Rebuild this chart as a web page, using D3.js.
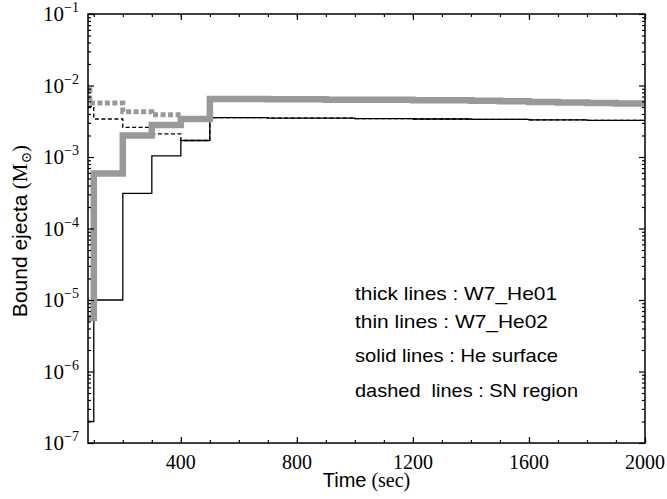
<!DOCTYPE html>
<html><head><meta charset="utf-8">
<script src="https://cdn.jsdelivr.net/npm/d3@7"></script>
<style>
body{margin:0;background:#fff;}
svg{display:block;}
.serif{font-family:'Liberation Serif','DejaVu Serif','Times New Roman',serif;}
.sans{font-family:'Liberation Sans','DejaVu Sans',Arial,sans-serif;}
</style></head>
<body>
<svg id="chart" width="667" height="499"></svg>
<script>
// ---- data ----
const lateTimes = [500,600,700,800,900,1000,1100,1200,1300,1400,1500,1600,1700,1800,1900,2000];
const thinSolidTimes = [80,100,200,300,400].concat(lateTimes);
const thinSolidValues = [2e-7,1e-5,3.1e-4,1.04e-3,1.7e-3,
  3.55e-3,3.55e-3,3.5e-3,3.5e-3,3.5e-3,3.45e-3,3.45e-3,3.4e-3,3.4e-3,3.35e-3,3.35e-3,3.3e-3,3.3e-3,3.25e-3,3.25e-3,3.2e-3];
const thinDashedTimes = [80,100,200,300,400].concat(lateTimes);
const thinDashedValues = [5.1e-3,3.4e-3,2.6e-3,2.1e-3,1.7e-3,
  3.55e-3,3.55e-3,3.5e-3,3.5e-3,3.5e-3,3.45e-3,3.45e-3,3.4e-3,3.4e-3,3.35e-3,3.35e-3,3.3e-3,3.3e-3,3.25e-3,3.25e-3,3.2e-3];
const thickSolidTimes = [80,100,200,300,400].concat(lateTimes);
const thickSolidValues = [5.6e-6,5.9e-4,2.0e-3,2.8e-3,3.4e-3,
  6.5e-3,6.5e-3,6.4e-3,6.4e-3,6.3e-3,6.3e-3,6.3e-3,6.2e-3,6.2e-3,6.1e-3,6.0e-3,5.9e-3,5.8e-3,5.7e-3,5.6e-3,5.5e-3];
const thickDashedTimes = [80,86,200,300,400].concat(lateTimes);
const thickDashedValues = [8.7e-3,5.7e-3,4.3e-3,3.9e-3,3.4e-3,
  6.5e-3,6.5e-3,6.4e-3,6.4e-3,6.3e-3,6.3e-3,6.3e-3,6.2e-3,6.2e-3,6.1e-3,6.0e-3,5.9e-3,5.8e-3,5.7e-3,5.6e-3,5.5e-3];

const xDomain = [80, 2000];
const xMajorTicks = [400, 800, 1200, 1600, 2000];
const xMinorTicks = d3.range(100, 2001, 100);
const yExponents = [-7,-6,-5,-4,-3,-2,-1];
const xLabel = ["Time", " (sec)"];
const yLabel = ["Bound ejecta", " (M", "⊙", ")"];
const notes = ["thick lines : W7_He01", "thin lines : W7_He02", "solid lines : He surface", "dashed  lines : SN region"];

// ---- layout ----
const W = 667, H = 499;
const m = {left: 88, right: 22, top: 14, bottom: 56};
const svg = d3.select("#chart");
const x = d3.scaleLinear().domain(xDomain).range([m.left, W - m.right]);
const y = d3.scaleLog().domain([1e-7, 1e-1]).range([H - m.bottom, m.top]);
const gray = "#999999";

svg.append("defs").append("clipPath").attr("id","clip")
  .append("rect").attr("x", m.left).attr("y", m.top)
  .attr("width", W - m.left - m.right).attr("height", H - m.top - m.bottom);

const line = d3.line().x(d => x(d[0])).y(d => y(d[1])).curve(d3.curveStepAfter);
const g = svg.append("g").attr("clip-path","url(#clip)");
function series(times, values, width, color, dash){
  g.append("path").datum(d3.zip(times, values))
    .attr("d", line).attr("fill","none").attr("stroke", color)
    .attr("stroke-width", width).attr("stroke-dasharray", dash || null);
}
series(thinSolidTimes, thinSolidValues, 1.3, "#000");
series(thinDashedTimes, thinDashedValues, 1.3, "#000", "4,2.5");
series(thickDashedTimes, thickDashedValues, 5, gray, "5,2.5");
series(thickSolidTimes, thickSolidValues, 6.5, gray);

// ---- axes ----
const yMajor = yExponents.map(e => Math.pow(10, e));
const yMinor = [];
yExponents.slice(0, -1).forEach(e => { for (let k = 2; k <= 9; k++) yMinor.push(k * Math.pow(10, e)); });

function styleAxis(sel){
  sel.select(".domain").remove();
  sel.selectAll("line").attr("stroke","#000").attr("stroke-width",1.2);
}
svg.append("g").attr("transform",`translate(0,${H-m.bottom})`)
  .call(d3.axisBottom(x).tickValues(xMajorTicks).tickSize(-6).tickFormat("")).call(styleAxis);
svg.append("g").attr("transform",`translate(0,${H-m.bottom})`)
  .call(d3.axisBottom(x).tickValues(xMinorTicks).tickSize(-3).tickFormat("")).call(styleAxis);
svg.append("g").attr("transform",`translate(0,${m.top})`)
  .call(d3.axisTop(x).tickValues(xMajorTicks).tickSize(-6).tickFormat("")).call(styleAxis);
svg.append("g").attr("transform",`translate(0,${m.top})`)
  .call(d3.axisTop(x).tickValues(xMinorTicks).tickSize(-3).tickFormat("")).call(styleAxis);
svg.append("g").attr("transform",`translate(${m.left},0)`)
  .call(d3.axisLeft(y).tickValues(yMajor).tickSize(-6).tickFormat("")).call(styleAxis);
svg.append("g").attr("transform",`translate(${m.left},0)`)
  .call(d3.axisLeft(y).tickValues(yMinor).tickSize(-3).tickFormat("")).call(styleAxis);
svg.append("g").attr("transform",`translate(${W-m.right},0)`)
  .call(d3.axisRight(y).tickValues(yMajor).tickSize(-6).tickFormat("")).call(styleAxis);
svg.append("g").attr("transform",`translate(${W-m.right},0)`)
  .call(d3.axisRight(y).tickValues(yMinor).tickSize(-3).tickFormat("")).call(styleAxis);

// frame
svg.append("rect").attr("x", m.left).attr("y", m.top)
  .attr("width", W - m.left - m.right).attr("height", H - m.top - m.bottom)
  .attr("fill","none").attr("stroke","#000").attr("stroke-width",1.5);

// tick labels
svg.selectAll(".xl").data(xMajorTicks).enter().append("text")
  .attr("class","serif")
  .attr("x", d => x(d)).attr("y", 468.5).attr("text-anchor","middle")
  .attr("font-size", 20).text(d => d);

yExponents.forEach(e => {
  const t = svg.append("text").attr("class","serif")
    .attr("x", 79).attr("y", y(Math.pow(10, e)) + 7)
    .attr("text-anchor","end").attr("font-size", 21);
  t.append("tspan").text("10");
  t.append("tspan").attr("font-size", 14).attr("dy", -9).text("−" + (-e));
});

// axis titles
const xt = svg.append("text").attr("x", (m.left + W - m.right)/2).attr("y", 487)
  .attr("text-anchor","middle").attr("font-size", 20);
xt.append("tspan").attr("class","sans").text(xLabel[0]);
xt.append("tspan").attr("class","serif").text(xLabel[1]);

const yt = svg.append("text")
  .attr("transform", `translate(27,231) rotate(-90)`)
  .attr("text-anchor","middle").attr("font-size", 21);
yt.append("tspan").attr("class","sans").text(yLabel[0]);
yt.append("tspan").attr("class","serif").text(yLabel[1]);
yt.append("tspan").attr("class","serif").attr("font-size", 14).attr("dy", 4).text(yLabel[2]);
yt.append("tspan").attr("class","serif").attr("dy", -4).text(yLabel[3]);

// annotations
const noteY = [300, 328, 362, 397];
const noteW = [202, 193, 203, 223];
notes.forEach((s, i) => {
  svg.append("text").attr("class","sans").attr("x", 355).attr("y", noteY[i])
    .attr("font-size", 19)
    .attr("textLength", noteW[i]).attr("lengthAdjust","spacingAndGlyphs")
    .style("white-space","pre").text(s);
});
</script>
</body></html>
